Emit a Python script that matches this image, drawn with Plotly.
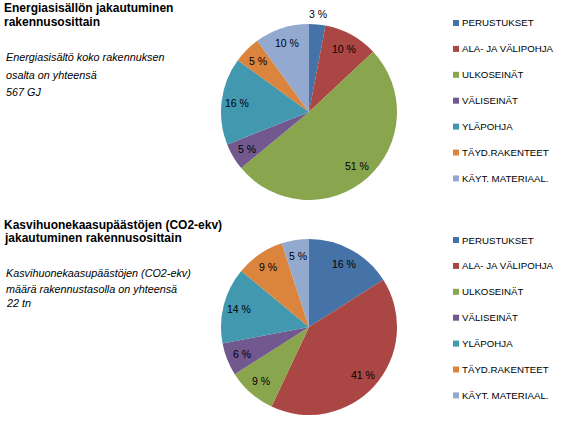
import math
import plotly.graph_objects as go

categories = ["PERUSTUKSET", "ALA- JA VÄLIPOHJA", "ULKOSEINÄT", "VÄLISEINÄT",
              "YLÄPOHJA", "TÄYD.RAKENTEET", "KÄYT. MATERIAAL."]
energy_pct = [3, 10, 51, 5, 16, 5, 10]
co2_pct = [16, 41, 9, 6, 14, 9, 5]
colors = ["#4572A7", "#AA4643", "#89A54E", "#71588F", "#4198AF", "#DB843D", "#93A9CF"]

title_top = ["Energiasisällön jakautuminen", "rakennusosittain"]
note_top = ["Energiasisältö koko rakennuksen", "osalta on yhteensä", "567 GJ"]
title_bot = ["Kasvihuonekaasupäästöjen (CO2-ekv)", "jakautuminen rakennusosittain"]
note_bot = ["Kasvihuonekaasupäästöjen (CO2-ekv)", "määrä rakennustasolla on yhteensä", "22 tn"]

W, H = 561, 421
FONT = "Liberation Sans"
R = 88  # pie radius in px
pies = [
    dict(values=energy_pct, cx=309, cy=112, outside=[True] + [False] * 6),
    dict(values=co2_pct, cx=309, cy=327, outside=[False] * 7),
]


def px_x(x):
    return x / W


def px_y(y):
    return 1 - y / H


fig = go.Figure()
annotations = []

for p in pies:
    fig.add_trace(go.Pie(
        labels=categories, values=p["values"], sort=False, direction="clockwise",
        marker=dict(colors=colors, line=dict(width=0)),
        textinfo="none",
        domain=dict(x=[px_x(p["cx"] - R), px_x(p["cx"] + R)],
                    y=[px_y(p["cy"] + R), px_y(p["cy"] - R)]),
        showlegend=False, hoverinfo="label+percent",
    ))
    # percentage data labels, placed along each slice's bisector
    total = sum(p["values"])
    cum = 0
    for v, out in zip(p["values"], p["outside"]):
        theta = 2 * math.pi * (cum + v / 2) / total
        cum += v
        k = 1.12 if out else 0.82
        x = p["cx"] + k * R * math.sin(theta)
        y = p["cy"] - k * R * math.cos(theta)
        annotations.append(dict(
            text=f"{v} %", x=px_x(x), y=px_y(y), xref="paper", yref="paper",
            xanchor="center", yanchor="middle", showarrow=False,
            font=dict(family=FONT, size=10.5, color="black"),
        ))

# legends (one per chart)
shapes = []
for y0 in [23, 240]:
    for i, (cat, col) in enumerate(zip(categories, colors)):
        yc = y0 + i * 25.9
        shapes.append(dict(
            type="rect", xref="paper", yref="paper",
            x0=px_x(453), x1=px_x(459), y0=px_y(yc + 3), y1=px_y(yc - 3),
            fillcolor=col, line=dict(width=0),
        ))
        annotations.append(dict(
            text=cat, x=px_x(460), y=px_y(yc), xref="paper", yref="paper",
            xanchor="left", yanchor="middle", showarrow=False,
            font=dict(family=FONT, size=9.7, color="black"),
        ))


def add_text(lines, ys, bold=False, italic=False, size=12, x=5):
    for line, y in zip(lines, ys):
        txt = f"<b>{line}</b>" if bold else (f"<i>{line}</i>" if italic else line)
        annotations.append(dict(
            text=txt, x=px_x(x), y=px_y(y), xref="paper", yref="paper",
            xanchor="left", yanchor="middle", showarrow=False,
            font=dict(family=FONT, size=size, color="black"),
        ))


add_text(title_top, [8, 22], bold=True, size=12, x=2)
add_text(note_top, [57, 75, 92], italic=True, size=10.8, x=4)
add_text(title_bot, [225, 238], bold=True, size=12, x=2)
add_text(note_bot, [273, 289, 303], italic=True, size=10.8, x=4)

fig.update_layout(
    width=W, height=H,
    margin=dict(l=0, r=0, t=0, b=0, autoexpand=False),
    paper_bgcolor="white", plot_bgcolor="white",
    annotations=annotations, shapes=shapes,
    font=dict(family=FONT),
)

fig.write_html("out.html", config={"displayModeBar": False},
               post_script="document.body.style.margin='0';")
